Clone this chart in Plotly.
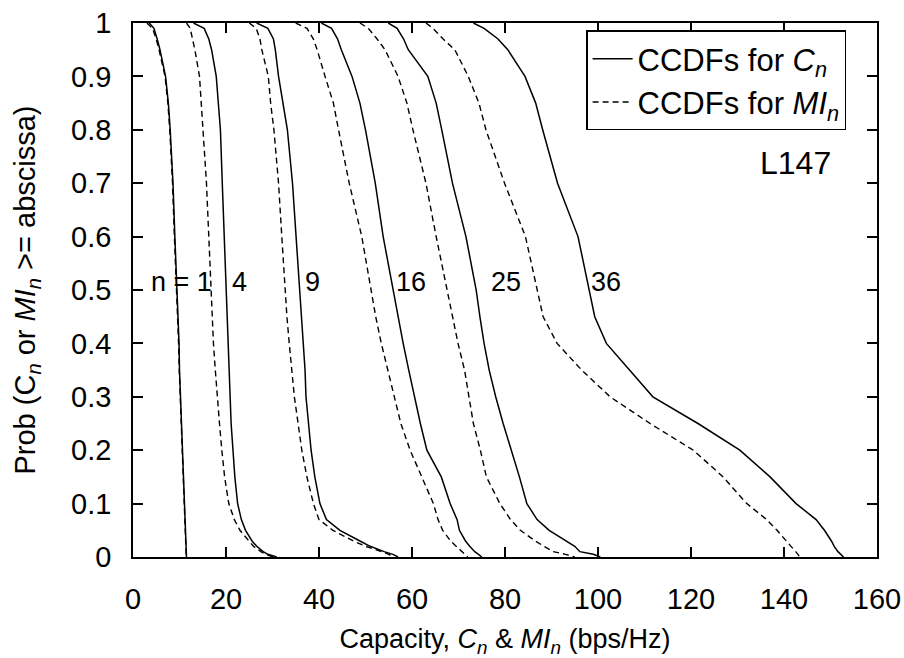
import plotly.graph_objects as go

# Probability levels (ordinate) shared by all CCDF curves
prob = [1.0, 0.99, 0.97, 0.95, 0.9, 0.85, 0.8, 0.7, 0.6, 0.5, 0.45, 0.4, 0.35,
        0.3, 0.25, 0.2, 0.15, 0.1, 0.07, 0.05, 0.03, 0.02, 0.01, 0.005, 0.0]

# Capacity C_n (bps/Hz) at each probability level
C1 = [3.5, 4.5, 5.2, 5.8, 7.0, 7.6, 8.0, 8.6, 9.0, 9.5, 9.7, 9.9, 10.0,
      10.2, 10.4, 10.6, 10.8, 11.0, 11.1, 11.2, 11.3, 11.35, 11.4, 11.45, 11.5]
C4 = [13.0, 15.3, 16.3, 16.9, 17.9, 18.4, 18.8, 19.2, 19.6, 20.0, 20.2, 20.4, 20.6,
      20.8, 21.1, 21.5, 21.9, 22.5, 23.3, 24.2, 25.6, 26.6, 28.0, 29.0, 30.9]
C9 = [26.6, 29.0, 30.2, 30.6, 31.3, 32.2, 33.2, 34.3, 35.1, 35.9, 36.3, 36.7, 37.0,
      37.2, 37.7, 38.3, 39.1, 40.2, 41.6, 44.5, 48.8, 51.0, 54.0, 55.9, 57.0]
C16 = [40.5, 42.7, 44.0, 44.8, 47.1, 48.8, 50.0, 52.1, 53.8, 55.9, 56.9, 58.1, 59.3,
       60.5, 61.8, 63.2, 66.3, 68.2, 69.7, 70.2, 71.5, 72.4, 73.5, 74.3, 75.0]
C25 = [54.9, 56.8, 58.2, 59.2, 63.4, 65.2, 66.4, 68.7, 71.6, 73.8, 74.6, 75.5, 76.6,
       78.0, 79.6, 81.4, 83.1, 84.7, 86.9, 89.5, 93.0, 95.0, 96.1, 99.0, 100.5]
C36 = [73.2, 75.5, 78.5, 80.6, 84.3, 86.6, 88.1, 91.3, 95.7, 98.1, 99.3, 101.8, 106.8,
       111.8, 121.5, 130.5, 137.0, 142.6, 146.9, 148.7, 150.2, 150.8, 151.6, 152.3, 152.8]

# Mutual information MI_n (bps/Hz) at each probability level
MI1 = [3.0, 4.2, 5.0, 5.6, 6.9, 7.5, 7.9, 8.5, 8.9, 9.4, 9.6, 9.8, 9.95,
       10.15, 10.35, 10.55, 10.75, 10.95, 11.05, 11.15, 11.25, 11.3, 11.35, 11.4, 11.45]
MI4 = [11.5, 12.3, 12.8, 13.3, 14.3, 14.7, 15.1, 15.8, 16.3, 16.8, 17.0, 17.3, 17.7,
       18.1, 18.6, 19.1, 19.7, 20.6, 21.8, 23.0, 24.8, 25.9, 27.5, 28.6, 30.1]
MI9 = [25.0, 26.5, 27.3, 27.7, 29.1, 29.6, 30.3, 31.3, 32.0, 32.7, 33.1, 33.6, 34.1,
       34.7, 35.5, 36.3, 37.4, 38.8, 40.0, 43.0, 47.4, 50.0, 53.5, 55.0, 55.9]
MI16 = [35.0, 37.4, 38.8, 39.6, 41.3, 43.1, 44.2, 46.5, 49.2, 51.1, 52.2, 53.4, 54.8,
        56.2, 57.6, 59.6, 62.1, 64.6, 65.6, 66.6, 68.3, 69.5, 70.7, 71.5, 72.0]
MI25 = [48.8, 50.6, 52.5, 54.2, 57.0, 58.9, 60.2, 63.0, 65.2, 67.6, 68.7, 69.9, 71.3,
        72.3, 73.2, 74.7, 76.0, 78.9, 81.2, 83.3, 86.5, 88.4, 90.4, 93.0, 95.0]
MI36 = [63.0, 64.5, 66.7, 69.2, 72.1, 74.4, 75.9, 79.9, 84.4, 87.0, 88.2, 91.2, 96.5,
        102.6, 111.2, 120.5, 126.9, 132.0, 136.3, 138.5, 140.6, 141.6, 142.5, 143.0, 143.4]

n_labels = ["n = 1", "4", "9", "16", "25", "36"]
n_label_x = [10.4, 23.0, 38.7, 59.8, 80.2, 101.7]
n_label_y = 0.515

x_ticks = [0, 20, 40, 60, 80, 100, 120, 140, 160]
y_ticks = [0, 0.1, 0.2, 0.3, 0.4, 0.5, 0.6, 0.7, 0.8, 0.9, 1]
y_tick_text = ["0", "0.1", "0.2", "0.3", "0.4", "0.5", "0.6", "0.7", "0.8", "0.9", "1"]

FONT = "Liberation Sans, Arial, sans-serif"

fig = go.Figure()

c_curves = [C1, C4, C9, C16, C25, C36]
mi_curves = [MI1, MI4, MI9, MI16, MI25, MI36]

for i, xs in enumerate(mi_curves):
    fig.add_trace(go.Scatter(
        x=xs, y=prob, mode="lines",
        line=dict(color="black", width=1.4, dash="6px,4px"),
        name="CCDFs for <i>MI<sub>n</sub></i>",
        legendgroup="mi", showlegend=(i == 0), legendrank=2,
    ))
for i, xs in enumerate(c_curves):
    fig.add_trace(go.Scatter(
        x=xs, y=prob, mode="lines",
        line=dict(color="black", width=1.5),
        name="CCDFs for <i>C<sub>n</sub></i>",
        legendgroup="c", showlegend=(i == 0), legendrank=1,
    ))

for txt, xv in zip(n_labels, n_label_x):
    fig.add_annotation(x=xv, y=n_label_y, text=txt, showarrow=False,
                       xanchor="center", yanchor="middle",
                       font=dict(size=27, color="black", family=FONT))

fig.add_annotation(x=142.5, y=0.738, text="L147", showarrow=False,
                   xanchor="center", yanchor="middle",
                   font=dict(size=32, color="black", family=FONT))

axis_common = dict(
    showline=True, linecolor="black", linewidth=1.5, mirror="ticks",
    ticks="inside", ticklen=10, tickwidth=1.5, tickcolor="black",
    showgrid=False, zeroline=False, automargin=False,
    tickfont=dict(size=29, color="black", family=FONT),
)

fig.update_xaxes(range=[0, 160], tickvals=x_ticks, ticklabelstandoff=15,
                 title=dict(text="Capacity, <i>C<sub>n</sub></i> &amp; <i>MI<sub>n</sub></i> (bps/Hz)",
                            font=dict(size=27, color="black", family=FONT), standoff=18),
                 **axis_common)
fig.update_yaxes(range=[0, 1], tickvals=y_ticks, ticktext=y_tick_text, ticklabelstandoff=14,
                 title=dict(text="Prob (C<sub><i>n</i></sub> or <i>MI<sub>n</sub></i> &gt;= abscissa)",
                            font=dict(size=29, color="black", family=FONT), standoff=27),
                 **axis_common)

fig.update_layout(
    width=904, height=658,
    margin=dict(l=133, r=27, t=23, b=101),
    paper_bgcolor="white", plot_bgcolor="white",
    showlegend=True,
    legend=dict(x=0.609, y=0.986, xanchor="left", yanchor="top",
                bgcolor="white", bordercolor="black", borderwidth=1.5,
                font=dict(size=31, color="black", family=FONT),
                tracegroupgap=0, itemwidth=40),
)

fig.write_html("out.html")
